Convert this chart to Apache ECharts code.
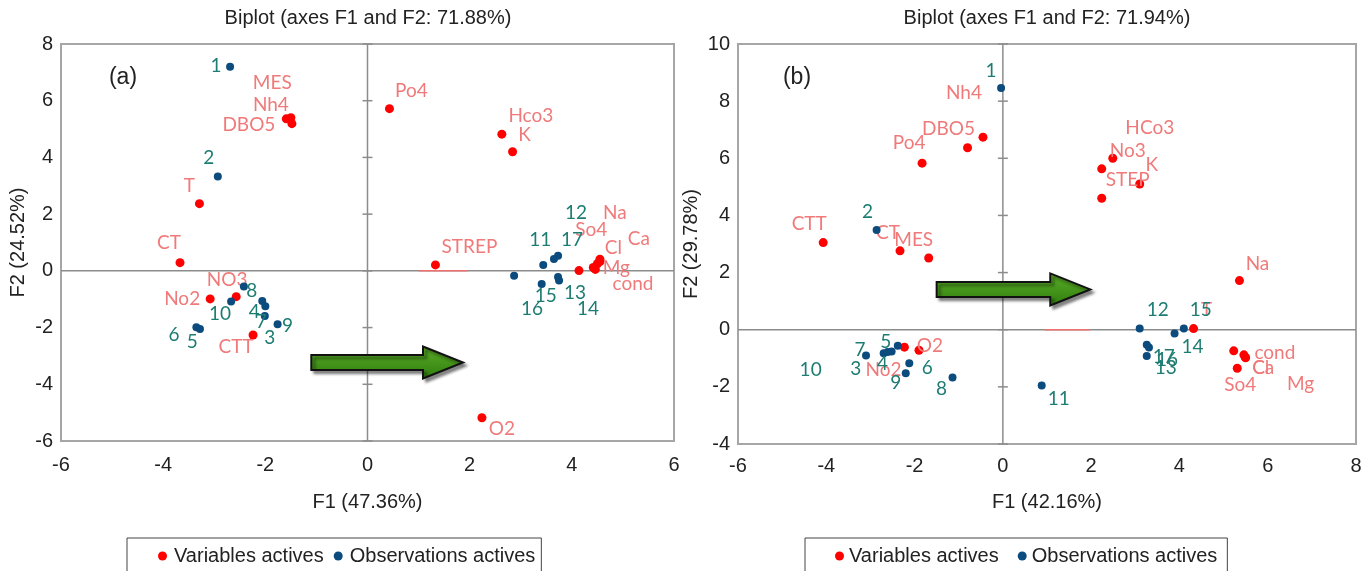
<!DOCTYPE html>
<html><head><meta charset="utf-8">
<script src="https://cdn.jsdelivr.net/npm/echarts@6/dist/echarts.min.js"></script>
<style>html,body{margin:0;padding:0;background:#fff}#c{width:1362px;height:571px}</style>
</head><body><div id="c"></div>
<script>
// ---------- Data: chart (a) ----------
const titleA = 'Biplot (axes F1 and F2: 71.88%)';
const xNameA = 'F1 (47.36%)';
const yNameA = 'F2 (24.52%)';
const panelA = '(a)';
const xTicksA = [-6, 6, 2];   // min, max, step
const yTicksA = [-6, 8, 2];
const varNamesA = ['MES','Nh4','DBO5','T','CT','No2','NO3','CTT','Po4','Hco3','K','STREP','Na','So4','Ca','Cl','Mg','cond','O2'];
const varXA = [-1.59,-1.50,-1.48,-3.29,-3.67,-3.08,-2.57,-2.24,0.43,2.63,2.84,1.33,4.55,4.42,4.55,4.50,4.46,4.14,2.24];
const varYA = [5.36,5.40,5.19,2.37,0.29,-0.99,-0.91,-2.26,5.72,4.82,4.20,0.21,0.41,0.12,0.33,0.25,0.05,0.01,-5.18];
const obsNamesA = ['1','2','3','4','5','6','7','8','9','10','11','12','13','14','15','16','17'];
const obsXA = [-2.69,-2.93,-2.01,-2.06,-3.35,-3.28,-2.00,-2.42,-1.76,-2.67,3.44,3.73,3.73,3.75,3.41,2.87,3.65];
const obsYA = [7.20,3.33,-1.59,-1.06,-1.99,-2.05,-1.25,-0.55,-1.88,-1.08,0.21,0.53,-0.22,-0.34,-0.46,-0.17,0.42];
const redSegA = [1.0, 1.96];
const arrowA = [-1.1, 1.87, -3.23];   // x start, x tip, y

// ---------- Data: chart (b) ----------
const titleB = 'Biplot (axes F1 and F2: 71.94%)';
const xNameB = 'F1 (42.16%)';
const yNameB = 'F2 (29.78%)';
const panelB = '(b)';
const xTicksB = [-6, 8, 2];
const yTicksB = [-4, 10, 2];
const varNamesB = ['Nh4','DBO5','Po4','CTT','CT','MES','HCo3','No3','K','STEP','Na','T','cond','Ca','Cl','So4','Mg','No2','O2'];
const varXB = [-0.45,-0.80,-1.83,-4.07,-2.33,-1.68,2.49,2.24,3.10,2.24,5.36,4.32,5.46,5.49,5.23,5.31,5.50,-2.23,-1.90];
const varYB = [6.74,6.37,5.83,3.05,2.76,2.51,6.00,5.63,5.10,4.60,1.72,0.04,-0.88,-0.96,-0.74,-1.35,-0.98,-0.61,-0.72];
const obsNamesB = ['1','2','3','4','5','6','7','8','9','10','11','12','13','14','15','16','17'];
const obsXB = [-0.04,-2.86,-2.70,-2.52,-2.38,-2.12,-3.10,-1.14,-2.20,-2.61,0.88,3.10,3.26,3.89,4.10,3.31,3.26];
const obsYB = [8.46,3.49,-0.82,-0.76,-0.56,-1.17,-0.90,-1.67,-1.52,-0.78,-1.95,0.04,-0.92,-0.13,0.04,-0.62,-0.53];
const redSegB = [0.95, 1.97];
const arrowB = [-1.5, 1.98, 1.41];

const legendNames = ['Variables actives', 'Observations actives'];

// ---------- Label placement (pixel offsets from point, style only) ----------
const varOffA = {MES:[-14,-36],Nh4:[-20,-13],DBO5:[-43,1],T:[-10,-18],CT:[-11,-20],No2:[-28,0],NO3:[-9,-17],CTT:[-17,12],Po4:[22,-18],Hco3:[29,-18],K:[12,-17],STREP:[34,-18],Na:[15,-46],So4:[-2,-38],Ca:[39,-23],Cl:[16,-16],Mg:[21,-2],cond:[54,13],O2:[20,11]};
const obsOffA = {'1':[-14,-1],'2':[-9,-19],'3':[5,22],'4':[-8,11],'5':[-4,15],'6':[-26,6],'7':[-4,16],'8':[8,4],'9':[10,2],'10':[-11,12],'11':[-3,-25],'12':[18,-43],'13':[17,16],'14':[29,28],'15':[4,12],'16':[18,33],'17':[18,-19]};
const varOffB = {Nh4:[-19,-44],DBO5:[-19,-19],Po4:[-13,-20],CTT:[-14,-19],CT:[-12,-18],MES:[-15,-18],HCo3:[37,-30],No3:[26,-18],K:[12,-19],STEP:[26,-18],Na:[18,-17],T:[13,-19],cond:[31,-2],Ca:[18,11],Cl:[27,17],So4:[3,17],Mg:[55,26],No2:[-21,23],O2:[11,-4]};
const obsOffB = {'1':[-10,-17],'2':[-9,-18],'3':[-28,16],'4':[-9,12],'5':[-12,-4],'6':[18,5],'7':[-6,-6],'8':[-11,11],'9':[-10,10],'10':[-77,18],'11':[17,13],'12':[18,-19],'13':[19,12],'14':[18,13],'15':[17,-19],'16':[18,12],'17':[17,12]};

const RED = '#ff0000', RED_TXT = '#f07a7a', BLUE = '#0b4b7d', TEAL_TXT = '#1e7d73';
const FONT = 'Liberation Sans', LFONT = 'Lato';

function pts(names, xs, ys, offs) {
  return names.map((n, i) => ({ name: n, value: [xs[i], ys[i]], label: { offset: offs[n] || [0, -16] } }));
}
function scatter(name, gi, data, color, txtColor, size, z) {
  return {
    type: 'scatter', name: name, xAxisIndex: gi, yAxisIndex: gi, data: data, symbolSize: size, z: z,
    itemStyle: { color: color, opacity: 1 },
    label: { show: true, formatter: '{b}', position: 'inside', color: txtColor, fontFamily: LFONT, fontSize: 19, align: 'center', verticalAlign: 'middle' },
    emphasis: { disabled: true }
  };
}
function axesDecor(gi, xt, yt, seg) {
  return {
    type: 'custom', xAxisIndex: gi, yAxisIndex: gi, silent: true, z: 1, data: [[0, 0]],
    renderItem: function (params, api) {
      const st = { stroke: '#8c8c8c', lineWidth: 1.5 };
      const ch = [];
      const a = api.coord([xt[0], 0]), b = api.coord([xt[1], 0]);
      ch.push({ type: 'line', shape: { x1: a[0], y1: a[1], x2: b[0], y2: b[1] }, style: st });
      const c = api.coord([0, yt[0]]), d = api.coord([0, yt[1]]);
      ch.push({ type: 'line', shape: { x1: c[0], y1: c[1], x2: d[0], y2: d[1] }, style: st });
      for (let v = yt[0]; v <= yt[1]; v += yt[2]) {
        const p = api.coord([0, v]);
        ch.push({ type: 'line', shape: { x1: p[0] - 5, y1: p[1], x2: p[0] + 5, y2: p[1] }, style: st });
      }
      const s1 = api.coord([seg[0], 0]), s2 = api.coord([seg[1], 0]);
      ch.push({ type: 'line', shape: { x1: s1[0], y1: s1[1], x2: s2[0], y2: s2[1] }, style: { stroke: '#f07070', lineWidth: 1.5 } });
      return { type: 'group', children: ch };
    }
  };
}
function arrow(gi, arr) {
  return {
    type: 'custom', xAxisIndex: gi, yAxisIndex: gi, silent: true, z: 2, data: [arr],
    renderItem: function (params, api) {
      const p0 = api.coord([api.value(0), api.value(2)]);
      const p1 = api.coord([api.value(1), api.value(2)]);
      const bh = 7.5, hh = 16, hl = 40;
      const xb = p1[0] - hl, y = p0[1];
      const pts = [[p0[0], y - bh], [xb, y - bh], [xb, y - hh], [p1[0], y], [xb, y + hh], [xb, y + bh], [p0[0], y + bh]];
      return {
        type: 'polygon', shape: { points: pts },
        style: {
          fill: { type: 'linear', x: 0, y: 0, x2: 0, y2: 1, colorStops: [{ offset: 0, color: '#5cae28' }, { offset: 1, color: '#2f7c0e' }] },
          stroke: '#111', lineWidth: 2, shadowBlur: 3, shadowOffsetX: 3, shadowOffsetY: 3, shadowColor: 'rgba(0,0,0,0.45)'
        }
      };
    }
  };
}
function xAx(gi, t, name, gap, margin) {
  return {
    type: 'value', gridIndex: gi, min: t[0], max: t[1], interval: t[2], name: name, nameLocation: 'middle', nameGap: gap,
    nameTextStyle: { fontFamily: FONT, fontSize: 20, color: '#222' },
    axisLine: { show: false, onZero: false }, axisTick: { show: false }, splitLine: { show: false },
    axisLabel: { fontFamily: FONT, fontSize: 20, color: '#222', margin: margin, hideOverlap: false }
  };
}
function yAx(gi, t, name, gap, margin) {
  return {
    type: 'value', gridIndex: gi, min: t[0], max: t[1], interval: t[2], name: name, nameLocation: 'middle', nameGap: gap,
    nameTextStyle: { fontFamily: FONT, fontSize: 20, color: '#222' },
    axisLine: { show: false, onZero: false }, axisTick: { show: false }, splitLine: { show: false },
    axisLabel: { fontFamily: FONT, fontSize: 20, color: '#222', margin: margin, hideOverlap: false }
  };
}
function legend(left, pad, gap, txtPad) {
  return {
    data: legendNames, left: left, top: 538, orient: 'horizontal', icon: 'circle', itemWidth: 9, itemHeight: 9, itemGap: gap,
    padding: pad, borderColor: '#444', borderWidth: 1, selectedMode: false,
    textStyle: { fontFamily: FONT, fontSize: 20, color: '#222', padding: txtPad }
  };
}
function txt(x, y, s, size) {
  return { type: 'text', x: x, y: y, style: { text: s, fontFamily: FONT, fontSize: size, fill: '#222', align: 'center', verticalAlign: 'middle' } };
}

const chart = echarts.init(document.getElementById('c'), null, { renderer: 'canvas' });
chart.setOption({
  animation: false,
  backgroundColor: '#fff',
  grid: [
    { left: 61, top: 44, width: 613, height: 397, show: true, borderColor: '#a6a6a6', borderWidth: 2, backgroundColor: 'transparent', containLabel: false, outerBoundsMode: 'none' },
    { left: 738, top: 44, width: 618, height: 400, show: true, borderColor: '#a6a6a6', borderWidth: 2, backgroundColor: 'transparent', containLabel: false, outerBoundsMode: 'none' }
  ],
  xAxis: [xAx(0, xTicksA, xNameA, 51, 14), xAx(1, xTicksB, xNameB, 48, 12)],
  yAxis: [yAx(0, yTicksA, yNameA, 33, 8), yAx(1, yTicksB, yNameB, 37, 8)],
  legend: [legend(127, [8, 6, 12, 31], 10, [0, 0, 0, 2]), legend(805, [8, 10, 12, 30], 19, [0, 0, 0, 0])],
  graphic: [txt(368, 18, titleA, 20), txt(1047, 18, titleB, 20), txt(123, 78, panelA, 23), txt(797, 78, panelB, 23)],
  series: [
    axesDecor(0, xTicksA, yTicksA, redSegA),
    axesDecor(1, xTicksB, yTicksB, redSegB),
    arrow(0, arrowA),
    arrow(1, arrowB),
    scatter(legendNames[0], 0, pts(varNamesA, varXA, varYA, varOffA), RED, RED_TXT, 9, 3),
    scatter(legendNames[1], 0, pts(obsNamesA, obsXA, obsYA, obsOffA), BLUE, TEAL_TXT, 8, 4),
    scatter(legendNames[0], 1, pts(varNamesB, varXB, varYB, varOffB), RED, RED_TXT, 9, 3),
    scatter(legendNames[1], 1, pts(obsNamesB, obsXB, obsYB, obsOffB), BLUE, TEAL_TXT, 8, 4)
  ]
});
</script>
</body></html>
